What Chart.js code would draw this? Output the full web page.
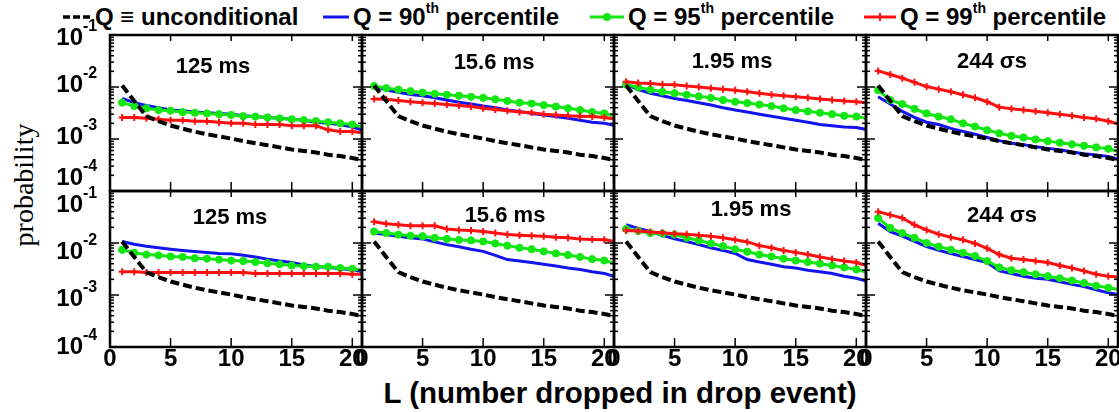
<!DOCTYPE html>
<html lang="en">
<head>
<meta charset="UTF-8">
<title>Drop event probability</title>
<script src="https://cdn.jsdelivr.net/npm/chart.js"></script>
<style>
  html, body { margin: 0; padding: 0; background: #fff; overflow: hidden; }
  #wrap { position: relative; width: 1119px; height: 412px; overflow: hidden;
          font-family: "Liberation Sans", Arial, Helvetica, sans-serif; color: #000; }
  #wrap canvas { position: absolute; }
  .legend-item { position: absolute; top: 4px; height: 26px; display: flex; align-items: center;
                 font-weight: bold; font-size: 24px; white-space: nowrap; }
  .legend-item svg { margin-right: 4px; }
  .legend-item sup { font-size: 14px; line-height: 0; vertical-align: baseline; position: relative; top: -9px; }
  .ptitle { position: absolute; transform: translate(-50%, -50%); font-size: 22px; font-weight: bold; white-space: nowrap; }
  #ylabel { position: absolute; left: 24px; top: 185px; transform: translate(-50%, -50%) rotate(-90deg);
            font-family: "Liberation Serif", "Times New Roman", serif; font-size: 28px; white-space: nowrap; }
  #xlabel { position: absolute; left: 620px; top: 393px; transform: translate(-50%, -50%);
            font-size: 29.5px; font-weight: bold; white-space: nowrap; }
</style>
</head>
<body>
<div id="wrap">
  <!-- legend -->
  <div class="legend-item" style="left:63px">
    <svg width="28" height="10"><line x1="0" y1="5" x2="28" y2="5" stroke="#000" stroke-width="3.5" stroke-dasharray="7,3"/></svg>
    Q &#8801; unconditional
  </div>
  <div class="legend-item" style="left:323px">
    <svg width="26" height="10"><line x1="0" y1="5" x2="26" y2="5" stroke="#1414f0" stroke-width="3"/></svg>
    Q = 90<sup>th</sup>&nbsp;percentile
  </div>
  <div class="legend-item" style="left:590px">
    <svg width="34" height="12"><line x1="0" y1="6" x2="34" y2="6" stroke="#14e614" stroke-width="3"/><circle cx="17" cy="6" r="4" fill="#14e614"/></svg>
    Q = 95<sup>th</sup>&nbsp;percentile
  </div>
  <div class="legend-item" style="left:864px">
    <svg width="32" height="12"><line x1="0" y1="6" x2="32" y2="6" stroke="#ff1010" stroke-width="3"/><line x1="16" y1="2" x2="16" y2="10" stroke="#ff1010" stroke-width="2"/></svg>
    Q = 99<sup>th</sup>&nbsp;percentile
  </div>
  <div id="ylabel">probability</div>
  <div id="xlabel">L (number dropped in drop event)</div>
</div>

<script>
    // ---- data ----
    const dropSizes = [1, 2, 3, 4, 5, 6, 7, 8, 9, 10, 11, 12, 13, 14, 15, 16, 17, 18, 19, 20, 21];
    const xTickValues = [0, 5, 10, 15, 20];
    const yDecades = [0.1, 0.01, 0.001, 0.0001];
    const windowLabels = ['125 ms', '15.6 ms', '1.95 ms', '244 \u03C3s'];

    // Q = unconditional (same curve in every panel)
    const unconditional = [0.0107, 0.0054, 0.00275, 0.0022, 0.00182, 0.00158, 0.00138, 0.00123, 0.00112, 0.00102, 0.00091,
                           0.00083, 0.00076, 0.00069, 0.00063, 0.00059, 0.00055, 0.0005, 0.00047, 0.00043, 0.00039];

    // upper row
    const q90_upper_125ms = [0.006, 0.005, 0.0044, 0.004, 0.0036, 0.0035, 0.0033, 0.0032, 0.0031, 0.003, 0.0028, 0.0027, 0.0026, 0.0025, 0.0024, 0.0023, 0.0021, 0.002, 0.0019, 0.0017, 0.00145];
    const q95_upper_125ms = [0.005, 0.0043, 0.0039, 0.0036, 0.0035, 0.0033, 0.0032, 0.0031, 0.003, 0.0029, 0.00275, 0.0027, 0.0026, 0.0025, 0.0024, 0.0023, 0.0022, 0.0021, 0.002, 0.0019, 0.00166];
    const q99_upper_125ms = [0.0026, 0.0026, 0.0025, 0.0024, 0.0023, 0.0023, 0.0022, 0.0022, 0.0021, 0.002, 0.002, 0.0019, 0.0019, 0.0019, 0.0018, 0.0018, 0.0018, 0.0015, 0.0014, 0.0014, 0.0013];

    const q90_upper_15ms = [0.0105, 0.0087, 0.0079, 0.0072, 0.0068, 0.0062, 0.0056, 0.0051, 0.0047, 0.0043, 0.004, 0.0036, 0.0034, 0.0031, 0.0029, 0.0027, 0.0025, 0.0023, 0.0021, 0.002, 0.0018];
    const q95_upper_15ms = [0.0105, 0.0095, 0.0089, 0.0083, 0.0078, 0.0074, 0.0071, 0.0068, 0.0065, 0.0062, 0.0058, 0.0054, 0.005, 0.0048, 0.0045, 0.0042, 0.0039, 0.0036, 0.0033, 0.0031, 0.00275];
    const q99_upper_15ms = [0.0059, 0.0058, 0.0055, 0.0052, 0.005, 0.0048, 0.0046, 0.0044, 0.0042, 0.0039, 0.0037, 0.0035, 0.0033, 0.0032, 0.003, 0.0029, 0.0028, 0.00275, 0.0027, 0.0026, 0.0024];

    const q90_upper_2ms = [0.0112, 0.0089, 0.0076, 0.0068, 0.006, 0.0055, 0.005, 0.0045, 0.004, 0.0036, 0.0033, 0.003, 0.00275, 0.0025, 0.0023, 0.0021, 0.0019, 0.0018, 0.0017, 0.00166, 0.0015];
    const q95_upper_2ms = [0.0112, 0.0098, 0.0089, 0.0081, 0.0076, 0.0071, 0.0066, 0.0062, 0.0056, 0.0052, 0.0049, 0.0046, 0.0043, 0.0039, 0.0036, 0.0034, 0.0032, 0.003, 0.0028, 0.0027, 0.00245];
    const q99_upper_2ms = [0.0126, 0.012, 0.0117, 0.0112, 0.011, 0.0105, 0.01, 0.0095, 0.0091, 0.0087, 0.0081, 0.0076, 0.0071, 0.0068, 0.0065, 0.0062, 0.0059, 0.0056, 0.0054, 0.0052, 0.0049];

    const q90_upper_244us = [0.0065, 0.0047, 0.0034, 0.0026, 0.0021, 0.0019, 0.0016, 0.0014, 0.00123, 0.00107, 0.00093, 0.00083, 0.00078, 0.00071, 0.00066, 0.00062, 0.00056, 0.00052, 0.00049, 0.00046, 0.0004];
    const q95_upper_244us = [0.0087, 0.0056, 0.0047, 0.0038, 0.0031, 0.0027, 0.0024, 0.002, 0.00174, 0.00148, 0.00129, 0.00115, 0.00107, 0.00098, 0.00091, 0.00085, 0.00079, 0.00074, 0.00069, 0.00065, 0.00056];
    const q99_upper_244us = [0.0204, 0.0174, 0.0148, 0.0123, 0.0102, 0.0091, 0.0081, 0.0071, 0.0062, 0.0052, 0.0041, 0.0038, 0.0036, 0.0034, 0.0032, 0.003, 0.0028, 0.0026, 0.00245, 0.0022, 0.0019];

    // lower row
    const q90_lower_125ms = [0.0107, 0.0095, 0.0087, 0.0081, 0.0076, 0.0072, 0.0069, 0.0066, 0.0063, 0.0062, 0.0058, 0.0054, 0.0049, 0.0045, 0.0042, 0.0038, 0.0035, 0.0034, 0.0032, 0.0031, 0.00275];
    const q95_lower_125ms = [0.0074, 0.0065, 0.006, 0.0058, 0.0055, 0.0054, 0.0051, 0.005, 0.0048, 0.0046, 0.0045, 0.0043, 0.0041, 0.0039, 0.0037, 0.0036, 0.0035, 0.0035, 0.0033, 0.0032, 0.003];
    const q99_lower_125ms = [0.0028, 0.0028, 0.0027, 0.0027, 0.0027, 0.0027, 0.0027, 0.0027, 0.0027, 0.0027, 0.0027, 0.0026, 0.0026, 0.0026, 0.0026, 0.0026, 0.0026, 0.0026, 0.0026, 0.0025, 0.0025];

    const q90_lower_15ms = [0.0155, 0.0145, 0.0135, 0.0126, 0.012, 0.0105, 0.0093, 0.0085, 0.0076, 0.0069, 0.0058, 0.0048, 0.0045, 0.0042, 0.0039, 0.0036, 0.0033, 0.0031, 0.0028, 0.0026, 0.0022];
    const q95_lower_15ms = [0.0166, 0.0155, 0.0145, 0.0138, 0.0135, 0.0126, 0.012, 0.0115, 0.0112, 0.0107, 0.0098, 0.0089, 0.0081, 0.0076, 0.0069, 0.0063, 0.0059, 0.0054, 0.0049, 0.0046, 0.004];
    const q99_lower_15ms = [0.0257, 0.0234, 0.0224, 0.0214, 0.0214, 0.0214, 0.0186, 0.0178, 0.0174, 0.0166, 0.0155, 0.0145, 0.0141, 0.0138, 0.0135, 0.0129, 0.0126, 0.012, 0.0117, 0.0115, 0.0107];

    const q90_lower_2ms = [0.0224, 0.0191, 0.0166, 0.0141, 0.012, 0.0107, 0.0093, 0.0081, 0.0072, 0.0063, 0.0048, 0.0043, 0.0039, 0.0035, 0.0033, 0.003, 0.0028, 0.0026, 0.0023, 0.0021, 0.0018];
    const q95_lower_2ms = [0.0186, 0.017, 0.0155, 0.0151, 0.0145, 0.0126, 0.0112, 0.0098, 0.0087, 0.0076, 0.0068, 0.006, 0.0055, 0.005, 0.0046, 0.0043, 0.004, 0.0037, 0.0034, 0.0031, 0.0027];
    const q99_lower_2ms = [0.0174, 0.017, 0.0162, 0.0158, 0.0151, 0.0148, 0.0141, 0.0135, 0.0126, 0.0115, 0.0105, 0.0089, 0.0081, 0.0072, 0.0066, 0.006, 0.0054, 0.0049, 0.0045, 0.0042, 0.0036];

    const q90_lower_244us = [0.024, 0.0166, 0.0135, 0.0107, 0.0085, 0.0072, 0.0063, 0.0055, 0.0048, 0.0042, 0.0029, 0.0026, 0.0023, 0.0021, 0.002, 0.0018, 0.0016, 0.00145, 0.00126, 0.0011, 0.001];
    const q95_lower_244us = [0.0302, 0.0195, 0.0155, 0.0126, 0.01, 0.0085, 0.0074, 0.0065, 0.0056, 0.0045, 0.0034, 0.003, 0.00275, 0.0025, 0.0023, 0.0021, 0.0019, 0.0017, 0.0015, 0.00138, 0.00126];
    const q99_lower_244us = [0.0398, 0.0347, 0.0302, 0.0224, 0.0178, 0.0148, 0.0129, 0.0115, 0.0098, 0.0079, 0.006, 0.0051, 0.0048, 0.0045, 0.0042, 0.0037, 0.0033, 0.0029, 0.0025, 0.0023, 0.0022];

    // ---- panel table ----
    const panels = [
        { row: 0, col: 0, q90: q90_upper_125ms, q95: q95_upper_125ms, q99: q99_upper_125ms },
        { row: 0, col: 1, q90: q90_upper_15ms,  q95: q95_upper_15ms,  q99: q99_upper_15ms },
        { row: 0, col: 2, q90: q90_upper_2ms,   q95: q95_upper_2ms,   q99: q99_upper_2ms },
        { row: 0, col: 3, q90: q90_upper_244us, q95: q95_upper_244us, q99: q99_upper_244us },
        { row: 1, col: 0, q90: q90_lower_125ms, q95: q95_lower_125ms, q99: q99_lower_125ms },
        { row: 1, col: 1, q90: q90_lower_15ms,  q95: q95_lower_15ms,  q99: q99_lower_15ms },
        { row: 1, col: 2, q90: q90_lower_2ms,   q95: q95_lower_2ms,   q99: q99_lower_2ms },
        { row: 1, col: 3, q90: q90_lower_244us, q95: q95_lower_244us, q99: q99_lower_244us }
    ];

    // ---- layout ----
    const ROW_TOP = [35, 191];
    const ROW_H = 156;
    const COL_LEFT = [110, 362, 614, 866];
    const COL_W = 252;
    const PAD = 12, PAD_T = 16, X_AXIS_H = 40, Y_AXIS_W = 110;
    const titleCenters = [[213, 66], [494, 62], [732, 61], [992, 61], [230, 217], [505, 215], [751, 209], [1002, 215]];
    const yLabelShift = [[3, -2, -2, -13], [14, 9, 4, 0]];

    const BLUE = '#1414f0', GREEN = '#14e614', RED = '#ff1010';
    Chart.defaults.font.family = '"Liberation Sans", Arial, Helvetica, sans-serif';

    const toPoints = vals => vals.map((v, i) => ({ x: dropSizes[i], y: v }));

    // frame, inward tick marks and the 10^n labels
    const framePlugin = {
        id: 'panelFrame',
        afterDatasetsDraw(chart, args, opts) {
            const { ctx, chartArea: a, scales: { x, y } } = chart;
            const seg = (x1, y1, x2, y2) => { ctx.beginPath(); ctx.moveTo(x1, y1); ctx.lineTo(x2, y2); ctx.stroke(); };
            ctx.save();
            ctx.strokeStyle = '#000';
            ctx.lineWidth = 1.5;
            xTickValues.slice(1).forEach(v => {
                const px = x.getPixelForValue(v);
                seg(px, a.bottom, px, a.bottom - 9);
                seg(px, a.top, px, a.top + 6);
            });
            for (let e = -4; e <= -1; e++) {
                for (let m = 1; m <= 9; m++) {
                    const v = m * Math.pow(10, e);
                    if (v <= y.min * 1.0001 || v >= y.max * 0.9999) continue;
                    const py = y.getPixelForValue(v);
                    const len = m === 1 ? 9 : 4;
                    seg(a.left, py, a.left + len, py);
                    seg(a.right, py, a.right - len, py);
                }
            }
            ctx.lineWidth = 2.5;
            ctx.strokeRect(a.left, a.top, a.right - a.left, a.bottom - a.top);

            if (opts.yLabels) {
                ctx.fillStyle = '#000';
                ctx.textBaseline = 'middle';
                yDecades.forEach((v, i) => {
                    const py = y.getPixelForValue(v) + yLabelShift[opts.row][i];
                    ctx.font = 'bold 24px "Liberation Sans", Arial, sans-serif';
                    ctx.textAlign = 'right';
                    ctx.fillText('10', a.left - 27, py);
                    ctx.font = 'bold 16px "Liberation Sans", Arial, sans-serif';
                    ctx.textAlign = 'left';
                    ctx.fillText(String(Math.round(Math.log10(v))), a.left - 27, py - 11);
                });
            }
            ctx.restore();
        }
    };

    const wrap = document.getElementById('wrap');

    panels.forEach((p, idx) => {
        const left = p.col === 0 ? 0 : COL_LEFT[p.col] - PAD;
        const top = ROW_TOP[p.row] - PAD_T;
        const width = COL_LEFT[p.col] + COL_W + PAD - left;
        const height = PAD_T + ROW_H + (p.row === 1 ? X_AXIS_H : PAD_T);

        const canvas = document.createElement('canvas');
        canvas.width = width;
        canvas.height = height;
        canvas.style.left = left + 'px';
        canvas.style.top = top + 'px';
        canvas.style.width = width + 'px';
        canvas.style.height = height + 'px';
        wrap.appendChild(canvas);

        new Chart(canvas, {
            type: 'line',
            data: {
                datasets: [
                    { label: 'Q \u2261 unconditional', data: toPoints(unconditional), borderColor: '#000', borderWidth: 4,
                      borderDash: [9, 4], pointRadius: 0, order: 0 },
                    { label: 'Q = 99th percentile', data: toPoints(p.q99), borderColor: RED, borderWidth: 3,
                      pointStyle: 'cross', pointRadius: 3.5, pointBorderWidth: 2, pointBorderColor: RED, order: 1 },
                    { label: 'Q = 95th percentile', data: toPoints(p.q95), borderColor: GREEN, borderWidth: 3,
                      pointStyle: 'circle', pointRadius: 3.6, pointBorderWidth: 1, pointBackgroundColor: GREEN, pointBorderColor: GREEN, order: 2 },
                    { label: 'Q = 90th percentile', data: toPoints(p.q90), borderColor: BLUE, borderWidth: 3,
                      pointRadius: 0, order: 3 }
                ]
            },
            options: {
                responsive: false,
                devicePixelRatio: 1,
                animation: false,
                layout: { padding: { left: p.col === 0 ? 0 : PAD, right: PAD, top: PAD_T, bottom: p.row === 1 ? 0 : PAD_T } },
                plugins: {
                    legend: { display: false },
                    tooltip: { enabled: false },
                    panelFrame: { yLabels: p.col === 0, row: p.row }
                },
                scales: {
                    x: {
                        type: 'linear', min: 0, max: 20.8,
                        grid: { display: false, drawTicks: false },
                        border: { display: false },
                        ticks: {
                            display: p.row === 1, stepSize: 5, includeBounds: false, maxRotation: 0, autoSkip: false,
                            padding: 0, color: '#000', font: { size: 24, weight: 'bold', lineHeight: 1 }
                        },
                        afterFit: s => { s.height = p.row === 1 ? X_AXIS_H : 0; s.paddingLeft = 0; s.paddingRight = 0; }
                    },
                    y: {
                        type: 'logarithmic', min: 0.0001, max: 0.1,
                        grid: { display: false, drawTicks: false },
                        border: { display: false },
                        ticks: { display: false },
                        afterFit: s => { s.width = p.col === 0 ? Y_AXIS_W : 0; s.paddingTop = 0; s.paddingBottom = 0; }
                    }
                }
            },
            plugins: [framePlugin]
        });

        const t = document.createElement('div');
        t.className = 'ptitle';
        t.textContent = windowLabels[p.col];
        t.style.left = titleCenters[idx][0] + 'px';
        t.style.top = titleCenters[idx][1] + 'px';
        wrap.appendChild(t);
    });
</script>
</body>
</html>
